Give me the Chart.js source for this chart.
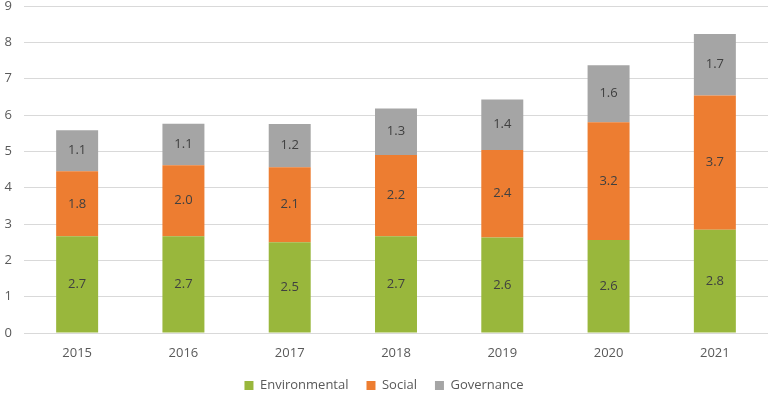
<!DOCTYPE html>
<html>
<head>
<meta charset="utf-8">
<script src="https://cdn.jsdelivr.net/npm/chart.js@4.4.1/dist/chart.umd.min.js"></script>
<style>
  html, body { margin: 0; padding: 0; background: #fff; }
  #wrap { width: 770px; height: 393px; position: relative; }
</style>
</head>
<body>
<div id="wrap"><canvas id="chart"></canvas></div>
<script>
    "use strict";

    var years = ["2015", "2016", "2017", "2018", "2019", "2020", "2021"];
    var environmental = [2.66, 2.66, 2.50, 2.66, 2.63, 2.56, 2.84];
    var social = [1.79, 1.96, 2.06, 2.24, 2.41, 3.24, 3.70];
    var governance = [1.13, 1.14, 1.19, 1.28, 1.39, 1.57, 1.69];
    var yTicks = [0, 1, 2, 3, 4, 5, 6, 7, 8, 9];

    var sFont = "'Open Sans', 'Liberation Sans', sans-serif";

    // Draws the value in the middle of each bar segment
    var barLabels = {
        id: "barLabels",
        afterDatasetsDraw: function (chart) {
            var ctx = chart.ctx;
            ctx.save();
            ctx.font = "13px " + sFont;
            ctx.fillStyle = "#404040";
            ctx.textAlign = "center";
            ctx.textBaseline = "middle";
            chart.data.datasets.forEach(function (ds, i) {
                var meta = chart.getDatasetMeta(i);
                meta.data.forEach(function (bar, j) {
                    var p = bar.getProps(["x", "y", "base"], true);
                    ctx.fillText(ds.data[j].toFixed(1), p.x, (p.y + p.base) / 2);
                });
            });
            ctx.restore();
        }
    };

    // Keep the legend block compact so the plot reaches down like the original
    var legendHeight = {
        id: "legendHeight",
        beforeLayout: function (chart) {
            var lg = chart.legend;
            if (lg && !lg._fitWrapped) {
                var fit = lg.fit;
                lg.fit = function () {
                    fit.apply(this, arguments);
                    this.height = 32;
                };
                lg._fitWrapped = true;
            }
        }
    };

    new Chart(document.getElementById("chart").getContext("2d"), {
        type: "bar",
        data: {
            labels: years,
            datasets: [
                { label: "Environmental", data: environmental, backgroundColor: "#99B73C" },
                { label: "Social", data: social, backgroundColor: "#ED7D31" },
                { label: "Governance", data: governance, backgroundColor: "#A5A5A5" }
            ]
        },
        options: {
            responsive: true,
            maintainAspectRatio: false,
            animation: false,
            layout: { padding: { left: 0, right: 2, top: 6, bottom: 0 } },
            datasets: {
                bar: { categoryPercentage: 1, barPercentage: 0.395 }
            },
            scales: {
                x: {
                    stacked: true,
                    grid: { display: false, drawTicks: false },
                    border: { display: false },
                    afterFit: function (scale) { scale.height = 28; },
                    ticks: { color: "#595959", font: { family: sFont, size: 13 }, padding: 12 }
                },
                y: {
                    stacked: true,
                    min: 0,
                    max: 9,
                    afterBuildTicks: function (scale) {
                        scale.ticks = yTicks.map(function (v) { return { value: v }; });
                    },
                    afterFit: function (scale) {
                        scale.width = 24;
                        scale.paddingTop = 0;
                        scale.paddingBottom = 0;
                    },
                    grid: { color: "#D9D9D9", lineWidth: 1, drawTicks: false },
                    border: { display: false },
                    ticks: {
                        color: "#595959",
                        font: { family: sFont, size: 13 },
                        padding: 12,
                        align: "center"
                    }
                }
            },
            plugins: {
                legend: {
                    position: "bottom",
                    labels: {
                        boxWidth: 9,
                        boxHeight: 9,
                        padding: 18,
                        color: "#595959",
                        font: { family: sFont, size: 13 }
                    }
                },
                tooltip: { enabled: false }
            }
        },
        plugins: [barLabels, legendHeight]
    });
</script>
</body>
</html>
